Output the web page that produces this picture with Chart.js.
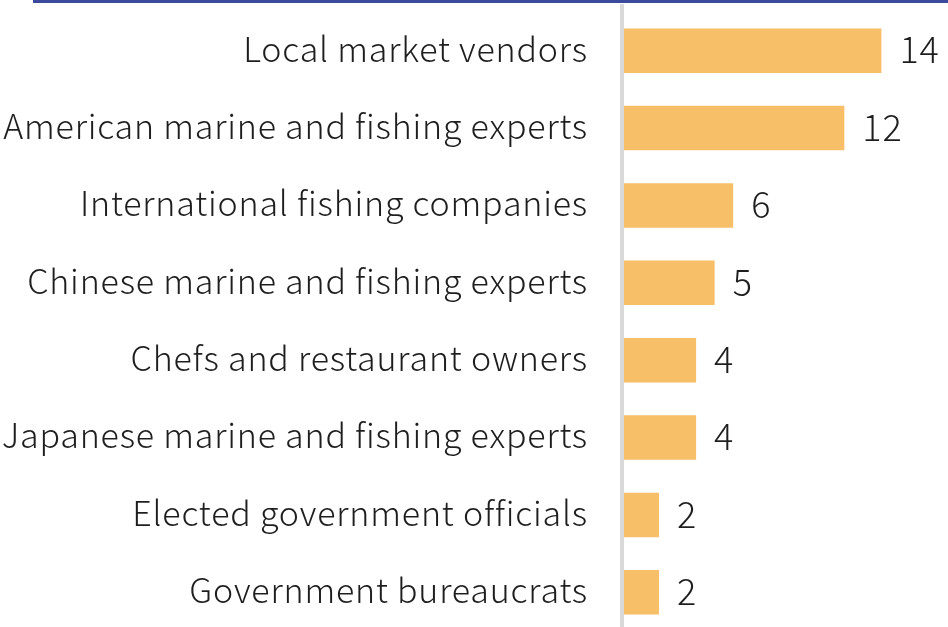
<!DOCTYPE html>
<html>
<head>
<meta charset="utf-8">
<script src="https://cdn.jsdelivr.net/npm/chart.js@4"></script>
<style>
  html, body { margin: 0; padding: 0; background: #fff; overflow: hidden; }
  #wrap { position: relative; width: 948px; height: 634px; }
</style>
</head>
<body>
<div id="wrap"><canvas id="chart"></canvas></div>
<script>
const categories = [
  "Local market vendors",
  "American marine and fishing experts",
  "International fishing companies",
  "Chinese marine and fishing experts",
  "Chefs and restaurant owners",
  "Japanese marine and fishing experts",
  "Elected government officials",
  "Government bureaucrats"
];
const counts = [14, 12, 6, 5, 4, 4, 2, 2];

const FONT = "'Noto Sans CJK JP', 'Noto Sans', sans-serif";
const TEXT = "#1e1e1e";

// slightly looser tracking for all canvas text
const tracking = {
  id: "tracking",
  beforeDraw(chart) {
    chart.ctx.letterSpacing = "0.8px";
  }
};

// numbers at the end of each bar
const valueLabels = {
  id: "valueLabels",
  afterDatasetsDraw(chart) {
    const ctx = chart.ctx;
    const meta = chart.getDatasetMeta(0);
    ctx.save();
    ctx.font = "300 36px " + FONT;
    ctx.fillStyle = TEXT;
    ctx.textAlign = "left";
    ctx.textBaseline = "middle";
    meta.data.forEach((bar, i) => {
      ctx.fillText(String(counts[i]), bar.x + 18, bar.y - 1);
    });
    ctx.restore();
  }
};

// frame edge along the top and the grey baseline
const frame = {
  id: "frame",
  afterDraw(chart) {
    const ctx = chart.ctx;
    const area = chart.chartArea;
    ctx.save();
    ctx.strokeStyle = "#3b4a9c";
    ctx.lineWidth = 3;
    ctx.beginPath();
    ctx.moveTo(33, 1.5);
    ctx.lineTo(chart.width, 1.5);
    ctx.moveTo(34.5, 0);
    ctx.lineTo(34.5, 3);
    ctx.stroke();
    ctx.strokeStyle = "#d9d9d9";
    ctx.lineWidth = 4;
    ctx.beginPath();
    ctx.moveTo(area.left, 4);
    ctx.lineTo(area.left, chart.height);
    ctx.stroke();
    ctx.restore();
  }
};

new Chart(document.getElementById("chart"), {
  type: "bar",
  data: {
    labels: categories,
    datasets: [{
      data: counts,
      backgroundColor: "#f8bf69",
      borderWidth: 0,
      categoryPercentage: 0.575,
      barPercentage: 1
    }]
  },
  options: {
    indexAxis: "y",
    responsive: true,
    maintainAspectRatio: false,
    animation: false,
    layout: { padding: { top: 12, bottom: 3, left: 0, right: 0 } },
    plugins: {
      legend: { display: false },
      tooltip: { enabled: false }
    },
    scales: {
      x: {
        display: false,
        min: 0,
        max: 326 / 18.53
      },
      y: {
        grid: { display: false, drawTicks: false },
        border: { display: false },
        afterFit(scale) {
          scale.width = 622;
          scale.paddingTop = 0;
          scale.paddingBottom = 0;
        },
        ticks: {
          padding: 34,
          labelOffset: -2,
          color: TEXT,
          font: { family: FONT, size: 34, weight: 300 }
        }
      }
    }
  },
  plugins: [tracking, valueLabels, frame]
});
</script>
</body>
</html>
